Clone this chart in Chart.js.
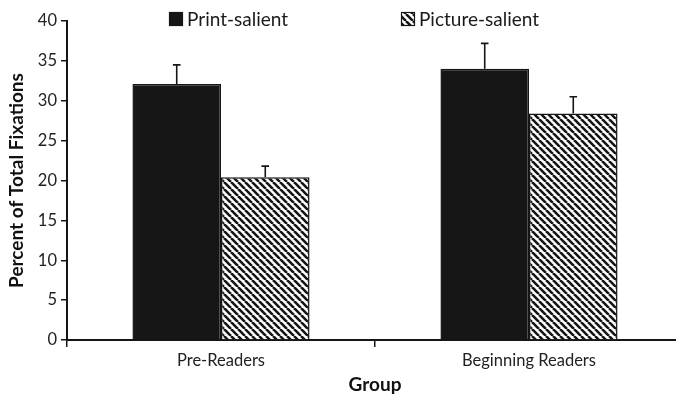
<!DOCTYPE html>
<html>
<head>
<meta charset="utf-8">
<script src="https://cdn.jsdelivr.net/npm/chart.js@4.4.1/dist/chart.umd.min.js"></script>
<style>
  html, body { margin: 0; padding: 0; background: #fff; overflow: hidden; }
  #wrap { position: relative; width: 684px; height: 397px; }
</style>
</head>
<body>
<div id="wrap"><canvas id="chart"></canvas></div>
<script>
// Group means and upper error bars (percent of total fixations)
const groups = ['Pre-Readers', 'Beginning Readers'];
const seriesNames = ['Print-salient', 'Picture-salient'];
const printSalient = [32.1, 34.0];
const pictureSalient = [20.4, 28.4];
const printSalientErr = [2.4, 3.2];
const pictureSalientErr = [1.4, 2.1];
const yTicks = [0, 5, 10, 15, 20, 25, 30, 35, 40];

const INK = '#161616';
const FONT = 'Lato, "Open Sans", sans-serif';

// Diagonal hatch fill for the picture-salient bars
function makeHatch() {
  const s = 7;
  const c = document.createElement('canvas');
  c.width = s; c.height = s;
  const g = c.getContext('2d');
  g.fillStyle = '#fff';
  g.fillRect(0, 0, s, s);
  g.strokeStyle = INK;
  g.lineWidth = 2.6;
  g.beginPath();
  for (let k = -1; k <= 1; k++) {
    g.moveTo(k * s, 0);
    g.lineTo(k * s + s, s);
  }
  g.stroke();
  return g.createPattern(c, 'repeat');
}
const hatch = makeHatch();

// Upper error whiskers drawn from the bar tops through the value scale
const errorBars = {
  id: 'errorBars',
  afterDatasetsDraw(chart) {
    const ctx = chart.ctx;
    const y = chart.scales.y;
    const errs = [printSalientErr, pictureSalientErr];
    ctx.save();
    ctx.strokeStyle = INK;
    ctx.lineWidth = 1.6;
    chart.data.datasets.forEach((ds, di) => {
      const meta = chart.getDatasetMeta(di);
      meta.data.forEach((bar, i) => {
        const top = y.getPixelForValue(ds.data[i]);
        const end = y.getPixelForValue(ds.data[i] + errs[di][i]);
        ctx.beginPath();
        ctx.moveTo(bar.x, top);
        ctx.lineTo(bar.x, end);
        ctx.moveTo(bar.x - 3.8, end);
        ctx.lineTo(bar.x + 3.8, end);
        ctx.stroke();
      });
    });
    ctx.restore();
  }
};

// Legend row across the top of the plot
const topLegend = {
  id: 'topLegend',
  afterDraw(chart) {
    const ctx = chart.ctx;
    const xs = [169, 401];
    ctx.save();
    ctx.font = '19px ' + FONT;
    ctx.textBaseline = 'middle';
    chart.data.datasets.forEach((ds, di) => {
      const x = xs[di], yc = 19, b = 14;
      ctx.fillStyle = ds.backgroundColor;
      ctx.fillRect(x, yc - b / 2, b, b);
      ctx.strokeStyle = INK;
      ctx.lineWidth = 1.2;
      ctx.strokeRect(x + 0.5, yc - b / 2 + 0.5, b - 1, b - 1);
      ctx.fillStyle = '#1a1a1a';
      ctx.fillText(ds.label, x + b + 4, yc + 1);
    });
    ctx.restore();
  }
};

new Chart(document.getElementById('chart'), {
  type: 'bar',
  data: {
    labels: groups,
    datasets: [
      { label: seriesNames[0], data: printSalient, backgroundColor: INK,
        borderColor: INK, borderWidth: 1.5 },
      { label: seriesNames[1], data: pictureSalient, backgroundColor: hatch,
        borderColor: INK, borderWidth: 1.5 }
    ]
  },
  options: {
    responsive: true,
    maintainAspectRatio: false,
    animation: false,
    layout: { padding: { top: 21, right: 1, bottom: 0, left: 0 } },
    categoryPercentage: 0.575,
    barPercentage: 1.0,
    plugins: {
      legend: { display: false },
      tooltip: { enabled: false }
    },
    scales: {
      x: {
        offset: true,
        afterFit(scale) { scale.height = 57; },
        grid: { display: true, offset: true, drawOnChartArea: false, drawTicks: true,
                tickLength: 7, color: INK, lineWidth: 1.5 },
        border: { display: true, color: INK, width: 2 },
        ticks: { color: '#222', font: { family: FONT, size: 16.5 }, padding: 4 },
        title: { display: true, text: 'Group', color: '#111',
                 font: { family: FONT, size: 19, weight: 'bold' }, padding: { top: 0, bottom: 1 } }
      },
      y: {
        min: 0, max: 40,
        afterBuildTicks(scale) { scale.ticks = yTicks.map(v => ({ value: v })); },
        afterFit(scale) { scale.width = 67; },
        grid: { display: true, drawOnChartArea: false, drawTicks: true, tickLength: 6,
                color: INK, lineWidth: 1.5 },
        border: { display: true, color: INK, width: 2 },
        ticks: { color: '#222', font: { family: FONT, size: 16.5 }, padding: 4 },
        title: { display: true, text: 'Percent of Total Fixations', color: '#111',
                 font: { family: FONT, size: 19, weight: 'bold' }, padding: { top: 5, bottom: 0 } }
      }
    }
  },
  plugins: [errorBars, topLegend]
});
</script>
</body>
</html>
